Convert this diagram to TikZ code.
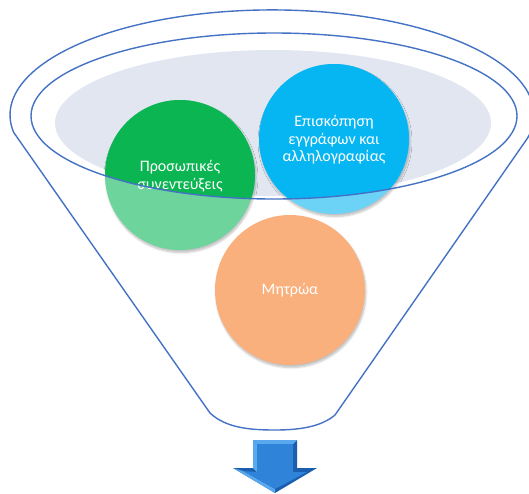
\documentclass[tikz,border=0pt]{standalone}
\usepackage{fontspec}
\setmainfont{Carlito}
\usetikzlibrary{shadows.blur}
\definecolor{greendark}{HTML}{0BB552}
\definecolor{greenlight}{HTML}{6DD49B}
\definecolor{bluedark}{HTML}{06B6F2}
\definecolor{bluelight}{HTML}{6CD3F7}
\definecolor{peach}{HTML}{F9B07C}
\definecolor{ringgray}{HTML}{E1E6F1}
\definecolor{funnelline}{HTML}{4472C4}
\definecolor{arrowface}{HTML}{2F83D8}
\definecolor{arrowdark}{HTML}{1B5EAE}
\definecolor{arrowlight}{HTML}{5AA8EE}
\tikzset{
  ball/.style={circle, minimum size=150pt, inner sep=0pt,
    blur shadow={shadow xshift=1pt, shadow yshift=-2.5pt, shadow blur steps=6, shadow opacity=25}},
  balltext/.style={text=white, align=center, font=\fontsize{16}{17.5}\selectfont},
  outline/.style={draw=funnelline, line width=1.4pt}
}
\begin{document}
\begin{tikzpicture}[x=1pt,y=-1pt]
\useasboundingbox (0,0) rectangle (529,493);
% gray disc inside the rim
\fill[ringgray] (273,123) ellipse [x radius=218, y radius=73];
% circles (light versions)
\node[ball, fill=greenlight] (g) at (180,175) {};
\node[ball, fill=bluelight] (b) at (334,139) {};
\node[ball, fill=peach] (o) at (290,290) {};
% dark parts inside the rim
\begin{scope}
  \clip (274,116) ellipse [x radius=243, y radius=83];
  \fill[greendark] (g.center) circle (75);
  \fill[bluedark] (b.center) circle (75);
\end{scope}
% texts
\node[balltext] (gt) at (180,176) {Προσωπικές\\συνεντεύξεις};
\node[balltext] (bt) at (334,140) {Επισκόπηση\\εγγράφων και\\αλληλογραφίας};
\node[balltext] (ot) at (290,290) {Μητρώα};
% funnel outline
\coordinate (lc) at (13.4,132);
\coordinate (rc) at (527.6,138);
\coordinate (lb) at (210,413);
\coordinate (rb) at (335,415);
\draw[outline, line join=round]
  (lc) -- (lb) .. controls (226,428) and (250,430) .. (275,430)
  .. controls (302,430) and (322,426) .. (rb) -- (rc)
  arc[start angle=-12.7, end angle=189.3, x radius=262, y radius=-105];
% inner rim
\draw[outline] (274,116) ellipse [x radius=243, y radius=83];
% arrow
\coordinate (a1) at (253,440);
\coordinate (a2) at (297,440);
\coordinate (a3) at (297,468);
\coordinate (a4) at (317,468);
\coordinate (a5) at (275,493);
\coordinate (a6) at (233,468);
\coordinate (a7) at (253,468);
\fill[arrowdark] (a1) -- (a2) -- (a3) -- (a4) -- (a5) -- (a6) -- (a7) -- cycle;
\fill[arrowlight] (a1) -- (a2) -- (293,444) -- (257,444) -- cycle;
\fill[arrowlight] (a1) -- (257,444) -- (257,472) -- (a7) -- cycle;
\fill[arrowlight] (a6) -- (243,471) -- (275,489) -- (a5) -- cycle;
\fill[arrowface] (257,444) -- (293,444) -- (293,472) -- (307,472) -- (275,489) -- (243,471) -- (257,472) -- cycle;
\end{tikzpicture}
\end{document}
